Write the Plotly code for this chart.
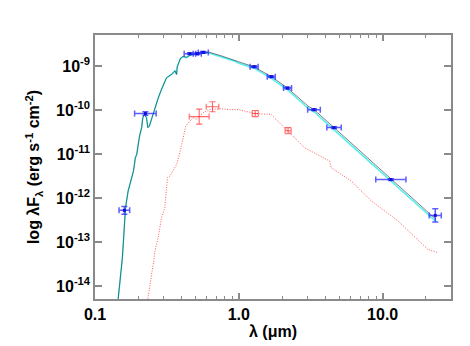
import numpy as np
import plotly.graph_objects as go

# model stellar SED (wavelength in micron, log10 of lambda*F_lambda)
model_wave = [0.143, 0.145, 0.155, 0.157, 0.160, 0.163, 0.170, 0.178, 0.185, 0.191, 0.195,
              0.204, 0.211, 0.215, 0.221, 0.228, 0.233, 0.239, 0.253, 0.261, 0.267, 0.275,
              0.290, 0.314, 0.340, 0.360, 0.369, 0.373, 0.393, 0.410, 0.433, 0.457, 0.494,
              0.536, 0.612, 0.757, 0.938, 0.989, 1.276, 1.683, 2.178, 3.027, 3.334, 4.592,
              11.38, 23.55]
model_logf = [-14.60, -14.28, -13.36, -13.05, -12.60, -12.22, -11.84, -11.58, -11.39, -11.08, -11.01,
              -10.59, -10.40, -10.175, -10.10, -10.175, -10.40, -10.36, -10.10, -9.95, -9.83, -9.73,
              -9.53, -9.27, -9.19, -9.11, -9.19, -9.02, -8.82, -8.78, -8.80, -8.75, -8.72,
              -8.70, -8.68, -8.77, -8.86, -8.90, -9.02, -9.24, -9.50, -9.91, -9.99, -10.40,
              -11.56, -12.49]
# stellar photosphere only (cyan), slightly under the total at long wavelengths
photo_logf = [-14.60, -14.28, -13.36, -13.05, -12.60, -12.22, -11.84, -11.58, -11.39, -11.08, -11.01,
              -10.59, -10.40, -10.175, -10.10, -10.175, -10.40, -10.36, -10.10, -9.95, -9.83, -9.73,
              -9.53, -9.27, -9.19, -9.11, -9.19, -9.02, -8.83, -8.79, -8.81, -8.76, -8.73,
              -8.71, -8.70, -8.79, -8.89, -8.93, -9.05, -9.28, -9.54, -9.96, -10.04, -10.45,
              -11.61, -12.54]

# companion model (red dotted)
comp_wave = [0.230, 0.247, 0.258, 0.261, 0.275, 0.290, 0.306, 0.309, 0.314, 0.319, 0.332, 0.369,
             0.389, 0.410, 0.428, 0.457, 0.482, 0.508, 0.565, 0.630, 0.738, 0.866, 0.989, 1.303,
             1.675, 2.197, 2.870, 4.280, 4.375, 6.03, 8.30, 12.77, 20.65, 24.2]
comp_logf = [-14.40, -13.81, -13.36, -13.20, -12.90, -12.45, -12.22, -12.05, -11.80, -11.54, -11.50, -11.24,
             -10.97, -10.67, -10.36, -10.25, -10.175, -10.21, -10.06, -9.99, -9.97, -9.99, -9.99, -10.08,
             -10.10, -10.48, -10.86, -11.16, -11.31, -11.61, -12.06, -12.52, -13.17, -13.24]

# observed photometry of the primary (blue)
obs_wave = [0.160, 0.224, 0.457, 0.514, 0.566, 1.277, 1.68, 2.18, 3.33, 4.59, 11.4, 23.2]
obs_logf = [-12.28, -10.08, -8.72, -8.72, -8.69, -9.016, -9.243, -9.50, -9.993, -10.40, -11.58, -12.395]
obs_xerr = [0.037, 0.075, 0.040, 0.028, 0.035, 0.028, 0.028, 0.028, 0.044, 0.050, 0.105, 0.042]
obs_yerr = [0.09, 0.04, 0.02, 0.02, 0.02, 0.02, 0.02, 0.02, 0.02, 0.02, 0.02, 0.15]

# observed photometry of the companion (red)
sec_wave = [0.530, 0.656, 1.30, 2.20]
sec_logf = [-10.15, -9.925, -10.08, -10.47]
sec_xerr = [0.069, 0.044, 0.021, 0.021]
sec_yerr = [0.17, 0.114, 0.07, 0.07]


def flux(logs):
    return [10 ** v for v in logs]


def errs(vals, dex):
    v = np.array(vals)
    d = np.array(dex)
    return list(v * (10 ** d - 1)), list(v * (1 - 10 ** -d))


fig = go.Figure()

fig.add_trace(go.Scatter(x=comp_wave, y=flux(comp_logf), mode='lines',
                         line=dict(color='rgba(255,20,20,0.7)', width=1, dash='1px,1.5px')))
fig.add_trace(go.Scatter(x=model_wave, y=flux(photo_logf), mode='lines',
                         line=dict(color='#50f0f0', width=1.5)))
fig.add_trace(go.Scatter(x=model_wave, y=flux(model_logf), mode='lines',
                         line=dict(color='rgba(30,40,40,0.75)', width=0.8)))

oy = flux(obs_logf)
exp_, exm = errs(obs_wave, obs_xerr)
eyp, eym = errs(oy, obs_yerr)
fig.add_trace(go.Scatter(
    x=obs_wave, y=oy, mode='markers',
    marker=dict(color='#1010d0', size=3, symbol='square'),
    error_x=dict(type='data', array=exp_, arrayminus=exm, color='rgba(40,40,255,0.75)', thickness=1.5, width=3),
    error_y=dict(type='data', array=eyp, arrayminus=eym, color='rgba(40,40,255,0.75)', thickness=1.5, width=3),
))

sy = flux(sec_logf)
sxp, sxm = errs(sec_wave, sec_xerr)
syp, sym = errs(sy, sec_yerr)
fig.add_trace(go.Scatter(
    x=sec_wave, y=sy, mode='markers',
    marker=dict(color='rgba(0,0,0,0)', size=7, symbol='circle-open', line=dict(color='rgba(255,40,40,0.7)', width=1)),
    error_x=dict(type='data', array=sxp, arrayminus=sxm, color='rgba(255,40,40,0.7)', thickness=1.1, width=3),
    error_y=dict(type='data', array=syp, arrayminus=sym, color='rgba(255,40,40,0.7)', thickness=1.1, width=3),
))

axis_col = '#8a8a8a'
tick_font = dict(family='Liberation Sans', size=16, color='black', weight='bold')
title_font = dict(family='Liberation Sans', size=16, color='black', weight='bold')
minor_x = [0.2, 0.3, 0.4, 0.5, 0.6, 0.7, 0.8, 0.9, 2, 3, 4, 5, 6, 7, 8, 9, 20, 30]

fig.update_layout(
    width=470, height=346,
    margin=dict(l=87, r=27, t=27, b=55),
    paper_bgcolor='white', plot_bgcolor='white',
    showlegend=False,
    font=dict(family='Liberation Sans', color='black'),
    xaxis=dict(
        type='log', range=[-1, 1.475],
        tickvals=[0.1, 1, 10], ticktext=['0.1', '1.0', '10.0'],
        ticks='inside', ticklen=6, tickwidth=1.5, tickcolor=axis_col,
        showline=True, linecolor=axis_col, linewidth=1.5, mirror='ticks',
        showgrid=False, zeroline=False, tickfont=tick_font,
        minor=dict(tickvals=minor_x, ticks='inside', ticklen=3, tickcolor=axis_col, tickwidth=1, showgrid=False),
        title=dict(text='λ (μm)', font=title_font, standoff=2),
    ),
    yaxis=dict(
        type='log', range=[-14.295, -8.295],
        tickvals=[1e-14, 1e-13, 1e-12, 1e-11, 1e-10, 1e-9],
        ticktext=['10<sup>-14</sup>', '10<sup>-13</sup>', '10<sup>-12</sup>',
                  '10<sup>-11</sup>', '10<sup>-10</sup>', '10<sup>-9</sup>'],
        ticks='inside', ticklen=7, tickwidth=1.5, tickcolor=axis_col,
        showline=True, linecolor=axis_col, linewidth=1.5, mirror='ticks',
        showgrid=False, zeroline=False, tickfont=tick_font,
        title=dict(text='log λF<sub>λ</sub> (erg s<sup>-1</sup> cm<sup>-2</sup>)',
                   font=title_font, standoff=12),
    ),
)

fig.write_html('out.html')
